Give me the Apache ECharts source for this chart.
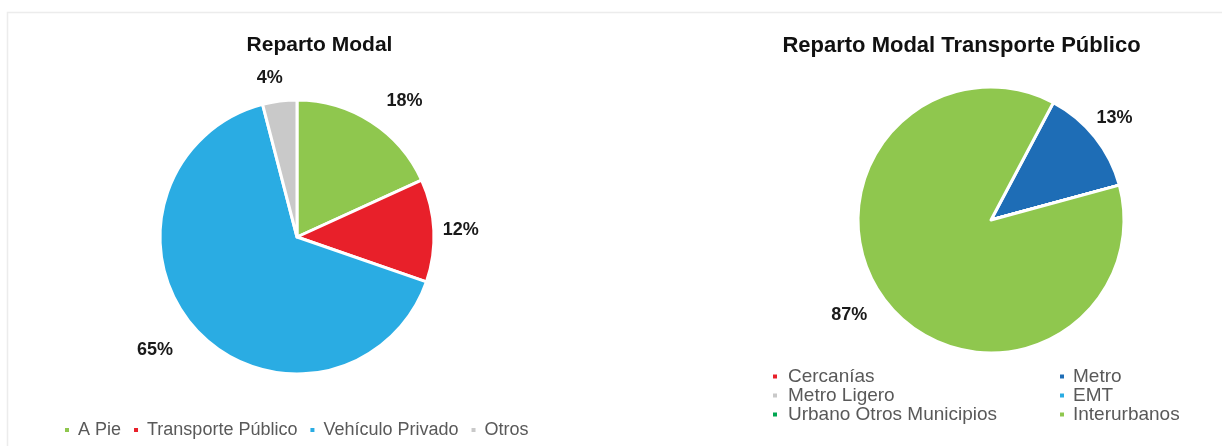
<!DOCTYPE html>
<html>
<head>
<meta charset="utf-8">
<style>
  html, body { margin: 0; padding: 0; background: #ffffff; }
  #chart { width: 1222px; height: 446px; }
</style>
<script src="https://cdn.jsdelivr.net/npm/echarts@6/dist/echarts.min.js"></script>
</head>
<body>
<div id="chart"></div>
<script>
// Reparto modal general (%)
const modalNames = ['A Pie', 'Transporte Público', 'Vehículo Privado', 'Otros'];
const modalValues = [18, 12, 65, 4];
const modalColors = ['#8FC74E', '#E8202A', '#2AACE3', '#C9C9C9'];

// Reparto dentro del transporte público (%)
const ptNames = ['Cercanías', 'Metro', 'Metro Ligero', 'EMT', 'Urbano Otros Municipios', 'Interurbanos'];
const ptValues = [0, 13, 0, 0, 0, 87];
const ptColors = ['#E8202A', '#1E6DB6', '#C9C9C9', '#2AACE3', '#00A651', '#8FC74E'];

const FONT = '"Liberation Sans", Arial, sans-serif';

// per-slice label leader geometry (line itself hidden): [length, length2]
const modalLeaders = [[25, 2], [8, 1], [29, 2], [23, -6]];
const ptLeaders = [[10, 0], [30, -22], [10, 0], [10, 0], [10, 0], [19, 5]];

function toData(names, values, colors, leaders) {
  return names.map((n, i) => ({
    name: n,
    value: values[i],
    itemStyle: { color: colors[i] },
    labelLine: { show: false, length: leaders[i][0], length2: leaders[i][1] }
  }));
}

const pctLabel = p => (p.value > 0 ? p.value + '%' : '');

const labelStyle = {
  show: true,
  position: 'outside',
  formatter: pctLabel,
  distanceToLabelLine: 0,
  color: '#1a1a1a',
  fontFamily: FONT,
  fontWeight: 'bold',
  fontSize: 18
};

const legendText = { color: '#595959', fontFamily: FONT, fontSize: 18 };

const chart = echarts.init(document.getElementById('chart'), null, { renderer: 'canvas' });

chart.setOption({
  animation: false,
  backgroundColor: '#ffffff',
  graphic: [{
    type: 'rect',
    silent: true,
    shape: { x: 7.5, y: 12.5, width: 1400, height: 1000 },
    style: { fill: 'none', stroke: '#ececec', lineWidth: 1.5 }
  }],
  title: [
    {
      text: 'Reparto Modal',
      left: 314.5, top: 30, textAlign: 'center',
      textStyle: { fontFamily: FONT, fontWeight: 'bold', fontSize: 21, color: '#111111' }
    },
    {
      text: 'Reparto Modal Transporte Público',
      left: 956.5, top: 30, textAlign: 'center',
      textStyle: { fontFamily: FONT, fontWeight: 'bold', fontSize: 22, color: '#111111' }
    }
  ],
  legend: [
    {
      data: modalNames,
      left: 58, top: 416,
      orient: 'horizontal',
      icon: 'rect', itemWidth: 6, itemHeight: 6, itemGap: 11,
      textStyle: Object.assign({ padding: [0, 0, 0, 3] }, legendText)
    },
    {
      data: ['Cercanías', 'Metro Ligero', 'Urbano Otros Municipios'],
      left: 766, top: 362,
      orient: 'vertical',
      icon: 'rect', itemWidth: 6, itemHeight: 6, itemGap: 0,
      textStyle: Object.assign({}, legendText, { fontSize: 19, lineHeight: 18.5, padding: [0, 0, 0, 5] })
    },
    {
      data: ['Metro', 'EMT', 'Interurbanos'],
      left: 1053, top: 362,
      orient: 'vertical',
      icon: 'rect', itemWidth: 6, itemHeight: 6, itemGap: 0,
      textStyle: Object.assign({}, legendText, { fontSize: 19, lineHeight: 18.5, padding: [0, 0, 0, 3] })
    }
  ],
  series: [
    {
      name: 'Reparto Modal',
      type: 'pie',
      center: [297, 237],
      radius: [0, 137],
      startAngle: 90,
      clockwise: true,
      avoidLabelOverlap: false,
      itemStyle: { borderColor: '#ffffff', borderWidth: 3 },
      label: labelStyle,
      emphasis: { disabled: true },
      data: toData(modalNames, modalValues, modalColors, modalLeaders)
    },
    {
      name: 'Reparto Modal Transporte Público',
      type: 'pie',
      center: [991, 220],
      radius: [0, 133],
      startAngle: 62,
      clockwise: true,
      avoidLabelOverlap: false,
      itemStyle: { borderColor: '#ffffff', borderWidth: 3 },
      label: labelStyle,
      emphasis: { disabled: true },
      data: toData(ptNames, ptValues, ptColors, ptLeaders)
    }
  ]
});
</script>
</body>
</html>
